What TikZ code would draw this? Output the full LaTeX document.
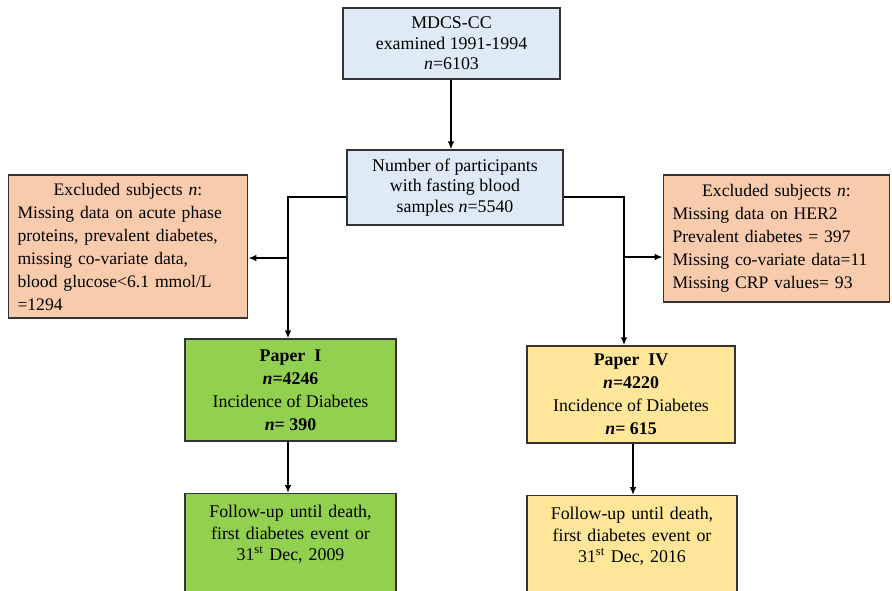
\documentclass[tikz,border=0pt]{standalone}
\usepackage{fontspec}
\setmainfont{Liberation Serif}
\usepackage{tikz}
\usetikzlibrary{arrows.meta,calc,positioning}
\definecolor{cohortblue}{HTML}{DEEBF7}
\definecolor{exclpeach}{HTML}{F8CBAD}
\definecolor{papergreen}{HTML}{92D050}
\definecolor{paperyellow}{HTML}{FFE699}
\tikzset{
	block/.style = {draw=black!80, rectangle, line width=0.9pt, inner sep=0pt},
	arrow/.style={draw, line width=1.3pt, -{Latex[length=6pt,width=5pt]}},
	line/.style={draw, line width=1.3pt},
}

\begin{document}
\begin{tikzpicture}[
	x=0.75pt, y=-0.75pt,
	bluenode/.style={block, fill=cohortblue, align=center,
		font=\fontsize{13.4}{15.5}\selectfont},
	exclnode/.style={block, fill=exclpeach, align=left, inner xsep=7pt,
		font=\fontsize{13.2}{17.25}\selectfont},
	papernode/.style={block, align=center,
		font=\fontsize{13.4}{17.25}\selectfont},
	follownode/.style={block, align=center, anchor=north, inner ysep=9pt,
		text depth=60pt, font=\fontsize{13.4}{16}\selectfont},
	]
	\useasboundingbox (0,0) rectangle (892,591);
	\clip (0,0) rectangle (892,591);
	%Nodes
	\node[bluenode, minimum width=217*0.75pt, minimum height=71*0.75pt] (cohort) at (451.5,43.5)
		{MDCS-CC\\examined 1991-1994\\\textit{n}=6103};
	\node[bluenode, minimum width=216*0.75pt, minimum height=75*0.75pt] (fasting) at (455,187.5)
		{Number of participants\\with fasting blood\\samples \textit{n}=5540};
	\node[exclnode, text width=221*0.75pt, minimum height=143*0.75pt] (exclI) at (128,246.5)
		{\makebox[\linewidth]{Excluded subjects \textit{n}:}\\
		 Missing data on acute phase\\
		 proteins, prevalent diabetes,\\
		 missing co-variate data,\\
		 blood glucose<6.1 mmol/L\\
		 =1294};
	\node[exclnode, text width=208*0.75pt, minimum height=127*0.75pt] (exclIV) at (776.5,238.5)
		{\makebox[\linewidth]{Excluded subjects \textit{n}:}\\
		 Missing data on HER2\\
		 Prevalent diabetes = 397\\
		 Missing co-variate data=11\\
		 Missing CRP values= 93};
	\node[papernode, fill=papergreen, minimum width=211*0.75pt, minimum height=102*0.75pt] (paperI) at (290.5,390)
		{\textbf{Paper\enspace I}\\\textbf{\textit{n}=4246}\\Incidence of Diabetes\\\textbf{\textit{n}= 390}};
	\node[papernode, fill=paperyellow, minimum width=208*0.75pt, minimum height=97*0.75pt] (paperIV) at (631,394.5)
		{\textbf{Paper\enspace IV}\\\textbf{\textit{n}=4220}\\Incidence of Diabetes\\\textbf{\textit{n}= 615}};
	\node[follownode, fill=papergreen, text width=211*0.75pt] (followI) at (290.5,493)
		{Follow-up until death,\\first diabetes event or\\31\textsuperscript{st} Dec, 2009};
	\node[follownode, fill=paperyellow, text width=210*0.75pt] (followIV) at (632,495)
		{Follow-up until death,\\first diabetes event or\\31\textsuperscript{st} Dec, 2016};
	%Lines
	\coordinate (splitI) at (288,197);
	\coordinate (splitIV) at (624,197);
	\coordinate (branchI) at (288,258);
	\coordinate (branchIV) at (624,257);
	\draw[arrow] (cohort.south -| 451,0) -- (fasting.north -| 451,0);
	\draw[arrow] (fasting.west |- splitI) -- (splitI) -- (splitI |- paperI.north);
	\draw[arrow] (fasting.east |- splitIV) -- (splitIV) -- (splitIV |- paperIV.north);
	\draw[arrow] (branchI) -- (branchI -| exclI.east);
	\draw[arrow] (branchIV) -- (branchIV -| exclIV.west);
	\draw[arrow] (paperI.south -| splitI) -- (followI.north -| splitI);
	\draw[arrow] (paperIV.south -| 633,0) -- (followIV.north -| 633,0);
\end{tikzpicture}
\end{document}
